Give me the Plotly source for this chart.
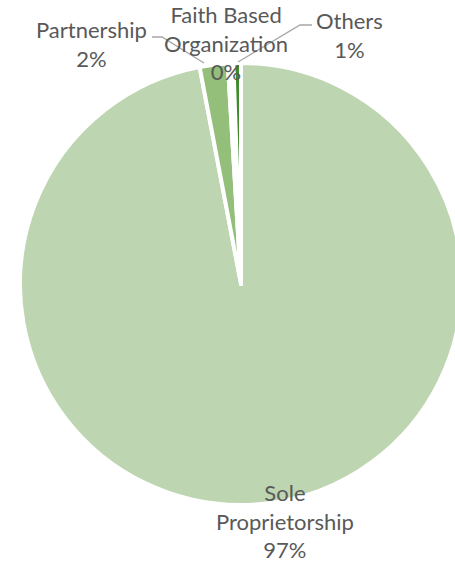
import plotly.graph_objects as go

# ---- data ----
categories = ["Sole Proprietorship", "Partnership", "Faith Based Organization", "Others"]
values = [97.0, 2.05, 0.40, 0.55]
label_lines = [["Sole", "Proprietorship"], ["Partnership"], ["Faith Based", "Organization"], ["Others"]]
colors = ["#BDD5B0", "#93BF7A", "#FFFFFF", "#3F8A2A"]

total = sum(values)
pct_text = [f"{v / total:.0%}" for v in values]

W, H = 462, 564
fig = go.Figure()

fig.add_trace(go.Pie(
    labels=categories, values=values, sort=False, direction="clockwise", rotation=0,
    marker=dict(colors=colors, line=dict(color="#FFFFFF", width=4)),
    textinfo="none", hoverinfo="label+percent", showlegend=False,
    domain=dict(x=[20 / W, 1.0], y=[(H - 505) / H, (H - 63) / H]),
))

# hidden pixel-coordinate axes for labels and leader lines
fig.update_xaxes(range=[0, W], visible=False, domain=[0, 1], fixedrange=True)
fig.update_yaxes(range=[H, 0], visible=False, domain=[0, 1], fixedrange=True)
fig.add_trace(go.Scatter(x=[0, W], y=[0, H], mode="markers", marker=dict(opacity=0),
                         hoverinfo="skip", showlegend=False))

label_pos = [(285, 477), (91, 14), (226, 0), (349, 5)]
for (x, y), lines, pct in zip(label_pos, label_lines, pct_text):
    fig.add_annotation(x=x, y=y, xref="x", yref="y", text="<br>".join(lines + [pct]),
                       showarrow=False, xanchor="center", yanchor="top", align="center",
                       yshift=1 if y == 0 else 0,
                       font=dict(family="Lato", size=22, color="#595959"))

leader = dict(color="#A6A6A6", width=1.3)
fig.add_shape(type="path", xref="x", yref="y", path="M152,37 L162,37 L204,63", line=leader)
fig.add_shape(type="path", xref="x", yref="y", path="M238,62 L300,25 L312,25", line=leader)

fig.update_layout(width=W, height=H, margin=dict(l=0, r=0, t=0, b=0),
                  paper_bgcolor="white", plot_bgcolor="rgba(0,0,0,0)")

fig.write_html("out.html", config={"displayModeBar": False},
               post_script="document.body.style.margin='0';document.body.style.overflow='hidden';")
